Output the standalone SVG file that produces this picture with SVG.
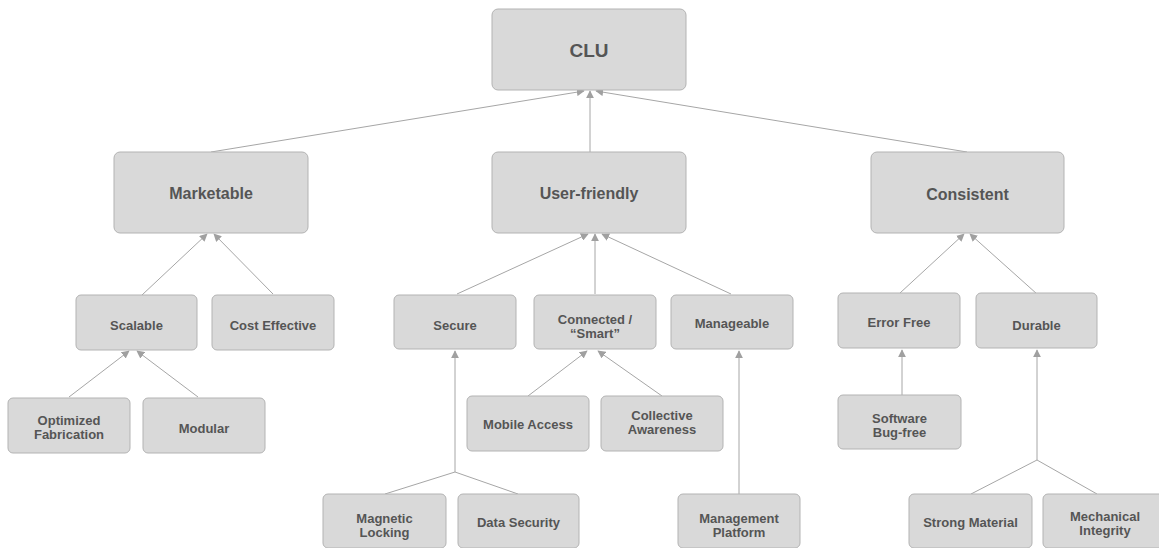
<svg xmlns="http://www.w3.org/2000/svg" width="1159" height="548" viewBox="0 0 1159 548">
<defs>
<style>
.box{fill:#d9d9d9;stroke:#b3b3b3;stroke-width:1}
.t{font-family:"Liberation Sans",Arial,sans-serif;font-weight:bold;fill:#555555;text-anchor:middle;dominant-baseline:central}
.big{font-size:16px}
.sm{font-size:13px}
.c{stroke:#a6a6a6;stroke-width:1;fill:none}
</style>
<marker id="ah" viewBox="0 0 10 10" refX="9" refY="5" markerWidth="8" markerHeight="8" orient="auto" markerUnits="userSpaceOnUse">
<path d="M0,0 L10,5 L0,10 z" fill="#a0a0a0"/>
</marker>
</defs>
<rect width="1159" height="548" fill="#ffffff"/>
<g id="connectors">
<line class="c" x1="211" y1="152" x2="584" y2="91" marker-end="url(#ah)"/>
<line class="c" x1="590" y1="152" x2="590" y2="91" marker-end="url(#ah)"/>
<line class="c" x1="967" y1="152" x2="596" y2="91" marker-end="url(#ah)"/>
<line class="c" x1="142" y1="295" x2="207" y2="234" marker-end="url(#ah)"/>
<line class="c" x1="273" y1="294" x2="214" y2="234" marker-end="url(#ah)"/>
<line class="c" x1="69" y1="397" x2="129" y2="351" marker-end="url(#ah)"/>
<line class="c" x1="198" y1="397" x2="137" y2="351" marker-end="url(#ah)"/>
<line class="c" x1="457" y1="294" x2="588" y2="234" marker-end="url(#ah)"/>
<line class="c" x1="595" y1="294" x2="595" y2="234" marker-end="url(#ah)"/>
<line class="c" x1="731" y1="294" x2="602" y2="234" marker-end="url(#ah)"/>
<line class="c" x1="528" y1="396" x2="587" y2="351" marker-end="url(#ah)"/>
<line class="c" x1="662" y1="396" x2="598" y2="351" marker-end="url(#ah)"/>
<polyline class="c" points="385,494 455,472 518,494"/>
<line class="c" x1="455" y1="472" x2="455" y2="351" marker-end="url(#ah)"/>
<line class="c" x1="739" y1="494" x2="739" y2="351" marker-end="url(#ah)"/>
<line class="c" x1="900" y1="293" x2="964" y2="234" marker-end="url(#ah)"/>
<line class="c" x1="1037" y1="294" x2="970" y2="234" marker-end="url(#ah)"/>
<line class="c" x1="902" y1="395" x2="902" y2="350" marker-end="url(#ah)"/>
<polyline class="c" points="971,494 1037,460 1097,494"/>
<line class="c" x1="1037" y1="460" x2="1037" y2="350" marker-end="url(#ah)"/>
</g>
<g id="clu"><rect class="box" x="492" y="9" width="194" height="81" rx="6"/><text class="t" x="589" y="50" font-size="19">CLU</text></g>
<g id="marketable"><rect class="box" x="114" y="152" width="194" height="81" rx="6"/><text class="t big" x="211" y="193">Marketable</text></g>
<g id="user-friendly"><rect class="box" x="492" y="152" width="194" height="81" rx="6"/><text class="t big" x="589" y="193">User-friendly</text></g>
<g id="consistent"><rect class="box" x="871" y="152" width="193" height="81" rx="6"/><text class="t big" x="967.5" y="194">Consistent</text></g>
<g id="scalable"><rect class="box" x="76" y="295" width="121" height="55" rx="5"/><text class="t sm" x="136.5" y="325">Scalable</text></g>
<g id="cost-effective"><rect class="box" x="212" y="295" width="122" height="55" rx="5"/><text class="t sm" x="273" y="325">Cost Effective</text></g>
<g id="optimized-fabrication"><rect class="box" x="8" y="398" width="122" height="55" rx="5"/><text class="t sm" x="69" y="420">Optimized</text><text class="t sm" x="69" y="434">Fabrication</text></g>
<g id="modular"><rect class="box" x="143" y="398" width="122" height="55" rx="5"/><text class="t sm" x="204" y="428">Modular</text></g>
<g id="secure"><rect class="box" x="394" y="295" width="122" height="54" rx="5"/><text class="t sm" x="455" y="325">Secure</text></g>
<g id="connected"><rect class="box" x="534" y="295" width="122" height="54" rx="5"/><text class="t sm" x="595" y="319">Connected /</text><text class="t sm" x="595" y="333">“Smart”</text></g>
<g id="manageable"><rect class="box" x="671" y="295" width="122" height="54" rx="5"/><text class="t sm" x="732" y="323">Manageable</text></g>
<g id="mobile-access"><rect class="box" x="467" y="396" width="122" height="55" rx="5"/><text class="t sm" x="528" y="424">Mobile Access</text></g>
<g id="collective-awareness"><rect class="box" x="601" y="396" width="122" height="55" rx="5"/><text class="t sm" x="662" y="415">Collective</text><text class="t sm" x="662" y="429">Awareness</text></g>
<g id="magnetic-locking"><rect class="box" x="323" y="494" width="123" height="54" rx="5"/><text class="t sm" x="384.5" y="518">Magnetic</text><text class="t sm" x="384.5" y="532">Locking</text></g>
<g id="data-security"><rect class="box" x="458" y="494" width="121" height="54" rx="5"/><text class="t sm" x="518.5" y="522">Data Security</text></g>
<g id="management-platform"><rect class="box" x="678" y="494" width="122" height="54" rx="5"/><text class="t sm" x="739" y="518">Management</text><text class="t sm" x="739" y="532">Platform</text></g>
<g id="error-free"><rect class="box" x="838" y="293" width="122" height="55" rx="5"/><text class="t sm" x="899" y="322">Error Free</text></g>
<g id="durable"><rect class="box" x="976" y="293" width="121" height="55" rx="5"/><text class="t sm" x="1036.5" y="325">Durable</text></g>
<g id="software-bug-free"><rect class="box" x="838" y="395" width="123" height="54" rx="5"/><text class="t sm" x="899.5" y="418">Software</text><text class="t sm" x="899.5" y="432">Bug-free</text></g>
<g id="strong-material"><rect class="box" x="909" y="494" width="123" height="54" rx="5"/><text class="t sm" x="970.5" y="522">Strong Material</text></g>
<g id="mechanical-integrity"><rect class="box" x="1043" y="494" width="122" height="54" rx="5"/><text class="t sm" x="1105" y="516">Mechanical</text><text class="t sm" x="1105" y="530">Integrity</text></g>
</svg>
